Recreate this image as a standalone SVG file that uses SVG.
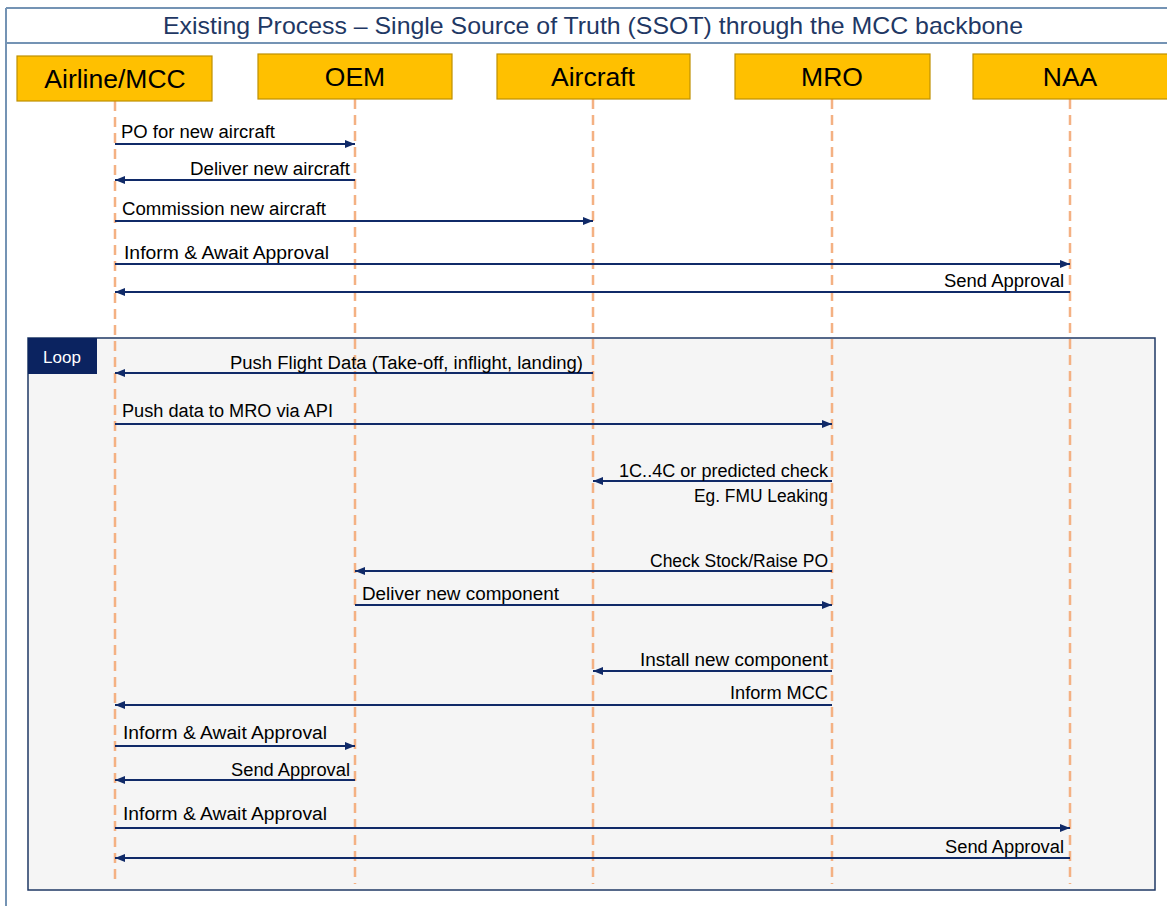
<svg xmlns="http://www.w3.org/2000/svg" width="1167" height="906" viewBox="0 0 1167 906">
<style>
.frame{fill:none;stroke:#7493b4;stroke-width:2}
.hdr rect{fill:#ffc000;stroke:#bf9000;stroke-width:1.2}
.hdr text{font-family:"Liberation Sans",Arial,sans-serif;font-size:26.5px;fill:#000;text-anchor:middle}
.life{stroke:#f4b183;stroke-width:2.5;stroke-dasharray:10 6;fill:none}
.msg line{stroke:#102a68;stroke-width:1.8}
.lbl{font-family:"Liberation Sans",Arial,sans-serif;font-size:18px;fill:#000}
.r{text-anchor:end}
</style>
<defs>
<marker id="ah" viewBox="0 0 10 10" refX="10" refY="5" markerWidth="10" markerHeight="10" markerUnits="userSpaceOnUse" orient="auto">
<path d="M0,1 L10,5 L0,9 z" fill="#102a68"/>
</marker>
</defs>
<rect width="1167" height="906" fill="#fff"/>
<g id="title">
<line class="frame" x1="6" y1="8" x2="1167" y2="8"/>
<line class="frame" x1="6" y1="43" x2="1167" y2="43"/>
<line class="frame" x1="6" y1="8" x2="6" y2="906"/>
<text x="593" y="34" font-family="'Liberation Sans',Arial,sans-serif" font-size="24" fill="#1f3864" text-anchor="middle" textLength="860" lengthAdjust="spacingAndGlyphs">Existing Process – Single Source of Truth (SSOT) through the MCC backbone</text>
</g>
<g id="loop">
<rect x="28" y="338" width="1127" height="552" fill="#f5f5f5" stroke="#1f3864" stroke-width="1.5"/>
<rect x="28" y="338" width="69" height="36" fill="#0b2360"/>
<text x="62" y="363" font-family="'Liberation Sans',Arial,sans-serif" font-size="17" fill="#fff" text-anchor="middle">Loop</text>
</g>
<g id="lifelines">
<line class="life" x1="115" y1="101" x2="115" y2="884"/>
<line class="life" x1="355" y1="99" x2="355" y2="884"/>
<line class="life" x1="593" y1="99" x2="593" y2="884"/>
<line class="life" x1="832" y1="99" x2="832" y2="884"/>
<line class="life" x1="1070" y1="99" x2="1070" y2="884"/>
</g>
<g id="airline" class="hdr"><rect x="17" y="56" width="195" height="45"/><text x="115" y="88">Airline/MCC</text></g>
<g id="oem" class="hdr"><rect x="258" y="54" width="194" height="45"/><text x="355" y="86">OEM</text></g>
<g id="aircraft" class="hdr"><rect x="497" y="54" width="193" height="45"/><text x="593" y="86">Aircraft</text></g>
<g id="mro" class="hdr"><rect x="735" y="54" width="195" height="45"/><text x="832" y="86">MRO</text></g>
<g id="naa" class="hdr"><rect x="973" y="54" width="196" height="45"/><text x="1070" y="86">NAA</text></g>
<g id="connectors" class="msg">
<line x1="115" y1="144" x2="355" y2="144" marker-end="url(#ah)"/>
<line x1="355" y1="180" x2="115" y2="180" marker-end="url(#ah)"/>
<line x1="115" y1="221" x2="593" y2="221" marker-end="url(#ah)"/>
<line x1="115" y1="264" x2="1070" y2="264" marker-end="url(#ah)"/>
<line x1="1070" y1="292" x2="115" y2="292" marker-end="url(#ah)"/>
<line x1="593" y1="373" x2="115" y2="373" marker-end="url(#ah)"/>
<line x1="115" y1="424" x2="832" y2="424" marker-end="url(#ah)"/>
<line x1="832" y1="481" x2="593" y2="481" marker-end="url(#ah)"/>
<line x1="832" y1="571" x2="355" y2="571" marker-end="url(#ah)"/>
<line x1="355" y1="605" x2="832" y2="605" marker-end="url(#ah)"/>
<line x1="832" y1="671" x2="593" y2="671" marker-end="url(#ah)"/>
<line x1="832" y1="705" x2="115" y2="705" marker-end="url(#ah)"/>
<line x1="115" y1="746" x2="355" y2="746" marker-end="url(#ah)"/>
<line x1="355" y1="780" x2="115" y2="780" marker-end="url(#ah)"/>
<line x1="115" y1="828" x2="1070" y2="828" marker-end="url(#ah)"/>
<line x1="1070" y1="858" x2="115" y2="858" marker-end="url(#ah)"/>
</g>
<g id="labels">
<text class="lbl" x="121" y="138" textLength="154" lengthAdjust="spacingAndGlyphs">PO for new aircraft</text>
<text class="lbl r" x="350" y="175" textLength="160" lengthAdjust="spacingAndGlyphs">Deliver new aircraft</text>
<text class="lbl" x="122" y="215" textLength="204" lengthAdjust="spacingAndGlyphs">Commission new aircraft</text>
<text class="lbl" x="124" y="259" textLength="205" lengthAdjust="spacingAndGlyphs">Inform &amp; Await Approval</text>
<text class="lbl r" x="1064" y="287" textLength="120" lengthAdjust="spacingAndGlyphs">Send Approval</text>
<text class="lbl r" x="583" y="369" textLength="353" lengthAdjust="spacingAndGlyphs">Push Flight Data (Take-off, inflight, landing)</text>
<text class="lbl" x="122" y="417" textLength="211" lengthAdjust="spacingAndGlyphs">Push data to MRO via API</text>
<text class="lbl r" x="828" y="477" textLength="209" lengthAdjust="spacingAndGlyphs">1C..4C or predicted check</text>
<text class="lbl r" x="828" y="502" textLength="134" lengthAdjust="spacingAndGlyphs">Eg. FMU Leaking</text>
<text class="lbl r" x="828" y="567" textLength="178" lengthAdjust="spacingAndGlyphs">Check Stock/Raise PO</text>
<text class="lbl" x="362" y="600" textLength="197" lengthAdjust="spacingAndGlyphs">Deliver new component</text>
<text class="lbl r" x="828" y="666" textLength="188" lengthAdjust="spacingAndGlyphs">Install new component</text>
<text class="lbl r" x="828" y="699" textLength="98" lengthAdjust="spacingAndGlyphs">Inform MCC</text>
<text class="lbl" x="123" y="739" textLength="204" lengthAdjust="spacingAndGlyphs">Inform &amp; Await Approval</text>
<text class="lbl r" x="350" y="776" textLength="119" lengthAdjust="spacingAndGlyphs">Send Approval</text>
<text class="lbl" x="123" y="820" textLength="204" lengthAdjust="spacingAndGlyphs">Inform &amp; Await Approval</text>
<text class="lbl r" x="1064" y="853" textLength="119" lengthAdjust="spacingAndGlyphs">Send Approval</text>
</g>
</svg>
